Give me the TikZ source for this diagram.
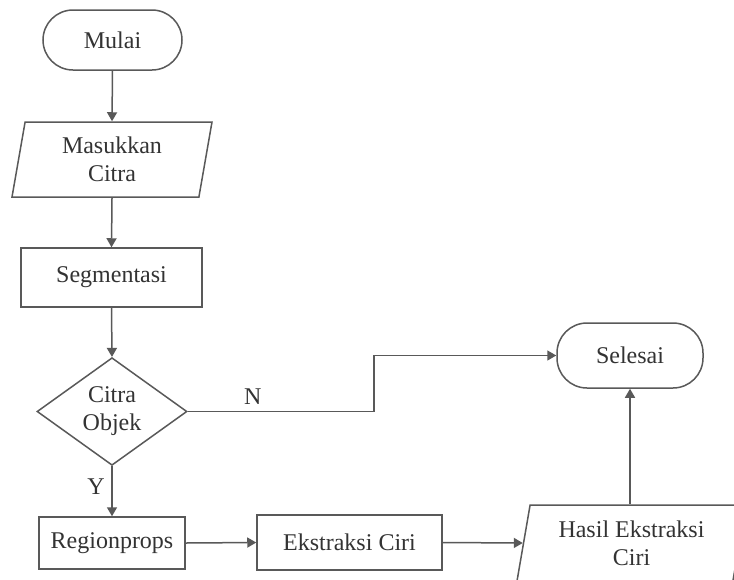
\documentclass[tikz,border=0pt]{standalone}
\usepackage{fontspec}
\setmainfont{Liberation Serif}
\usetikzlibrary{shapes.geometric,arrows.meta}

\begin{document}
\begin{tikzpicture}[x=0.5pt,y=-0.5pt,font=\fontsize{12pt}{14pt}\selectfont]
  \tikzset{
    garis/.style={draw=black!65,line width=0.75pt},
    panah/.style={garis,-{Triangle[length=4.5pt,width=5pt]}},
    terminal/.style={garis,rectangle,rounded corners=15pt,text=black!80},
    proses/.style={garis,rectangle,text=black!80},
    io/.style={garis,trapezium,trapezium left angle=75,trapezium right angle=105,
      trapezium stretches body,align=center,text=black!80,inner sep=1pt},
    keputusan/.style={garis,diamond,align=center,text=black!80,inner sep=0pt}}
  \useasboundingbox[fill=white] (0,0) rectangle (734,579);
      \node[terminal,minimum width=69.5pt,minimum height=30pt](mulai) at (112.5,40){Mulai};
        \node[io,minimum width=100pt,minimum height=37.5pt](masukan) at (112,159.5){Masukkan\\Citra};
        \node[proses,minimum width=90.5pt,minimum height=29.5pt](segmen) at (111.5,277.5){Segmentasi};
                \node[keputusan,minimum width=75pt,minimum height=51.5pt](cek) at (112,411.5){Citra\\Objek};
        \node[proses,minimum width=73pt,minimum height=26pt](region) at (112,543){Regionprops};
        \node[proses,minimum width=92.5pt,minimum height=27.5pt](ciri) at (349.5,542.5){Ekstraksi Ciri};
        \node[io,minimum width=114.5pt,minimum height=38pt](hasil) at (631.5,543){Hasil Ekstraksi\\Ciri};
      \node[terminal,minimum width=73pt,minimum height=32.5pt](selesai) at (630,355.5){Selesai};

          \draw[panah](mulai.south)--(masukan.north);
          \draw[panah](masukan.south)--(segmen.north);
          \draw[panah](segmen.south)--(cek.north);
  \draw[panah](cek.east)-- ++(186,0) node[pos=0.35,above,text=black!80]{N} |-(selesai.west);
  \draw[panah](cek.south)--(region.north) node[pos=0.4,left,text=black!80]{Y};
  \draw[panah](region.east)--(ciri.west);
  \draw[panah](ciri.east)--(hasil.west);
  \draw[panah](hasil.north -| selesai.south)--(selesai.south);

\end{tikzpicture}
\end{document}
